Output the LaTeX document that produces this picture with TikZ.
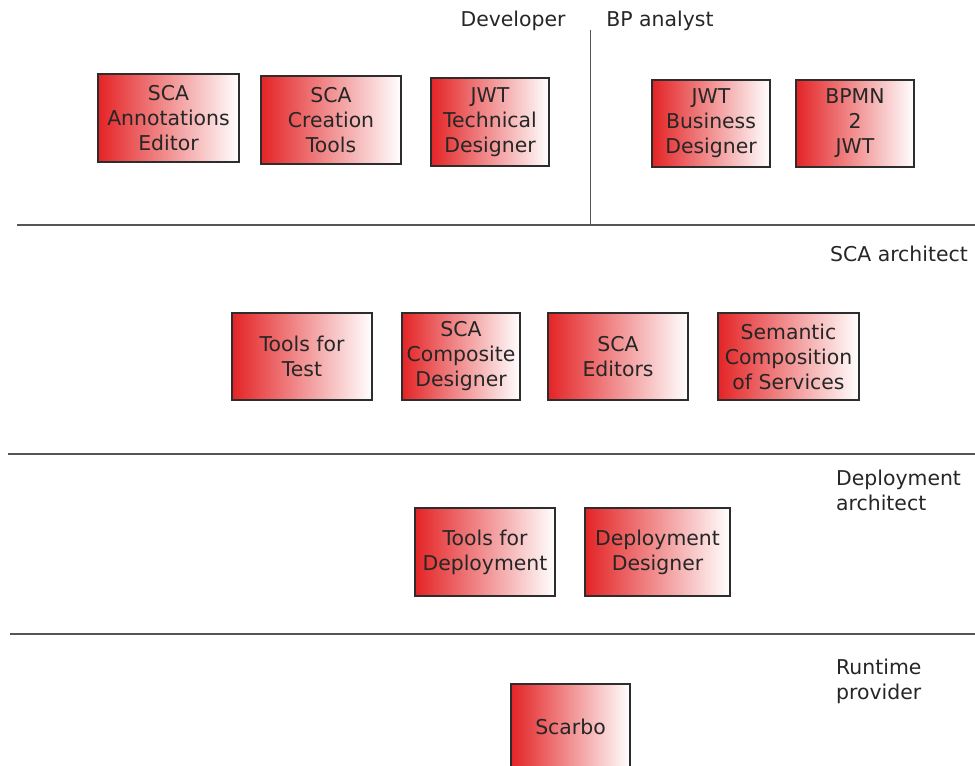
\documentclass[tikz,border=0pt]{standalone}
\usepackage{fontspec}
\setmainfont{DejaVu Sans}
\definecolor{boxred}{RGB}{228,36,38}
\definecolor{boxline}{RGB}{45,45,45}
\definecolor{sepline}{RGB}{85,85,85}
\begin{document}
\begin{tikzpicture}[x=1pt,y=-1pt,
  every node/.style={font=\fontsize{20.4}{25}\selectfont, text=black!85},
  tool/.style={draw=boxline, line width=1.3pt, left color=boxred, right color=white,
    align=center, inner sep=0pt},
  role/.style={inner sep=0pt},
  sep/.style={draw=sepline, line width=1.5pt}]
\useasboundingbox (0,0) rectangle (975,766);
\clip (0,0) rectangle (975,766);
% separators
\coordinate (v1) at (590,30);
\coordinate (v2) at (590,224);
\coordinate (h1a) at (17,225);
\coordinate (h1b) at (975,225);
\coordinate (h2a) at (8,454);
\coordinate (h2b) at (975,454);
\coordinate (h3a) at (10,634);
\coordinate (h3b) at (975,634);
\draw[draw=sepline, line width=1pt] (v1) -- (v2);
\draw[sep] (h1a) -- (h1b);
\draw[sep] (h2a) -- (h2b);
\draw[sep] (h3a) -- (h3b);
% role labels
\node[role] (dev) at (513,21) {Developer};
\node[role] (bpa) at (660,21) {BP analyst};
\node[role, anchor=east] (scaa) at (968,254) {SCA architect};
\node[role, anchor=west, align=left] (depa) at (836,490) {Deployment\\architect};
\node[role, anchor=west, align=left] (runp) at (836,681) {Runtime\\provider};
% row 1
\node[tool, minimum width=141, minimum height=88] (b1) at (168.5,118) {SCA\\Annotations\\Editor};
\node[tool, minimum width=140, minimum height=88] (b2) at (331,120) {SCA\\Creation\\Tools};
\node[tool, minimum width=118, minimum height=88] (b3) at (490,122) {JWT\\Technical\\Designer};
\node[tool, minimum width=118, minimum height=87] (b4) at (711,123.5) {JWT\\Business\\Designer};
\node[tool, minimum width=118, minimum height=87] (b5) at (855,123.5) {BPMN\\2\\JWT};
% row 2
\node[tool, minimum width=140, minimum height=87] (c1) at (302,356.5) {Tools for\\Test};
\node[tool, minimum width=118, minimum height=87] (c2) at (461,356.5) {SCA\\Composite\\Designer};
\node[tool, minimum width=140, minimum height=87] (c3) at (618,356.5) {SCA\\Editors};
\node[tool, minimum width=141, minimum height=87] (c4) at (788.5,356.5) {Semantic\\Composition\\of Services};
% row 3
\node[tool, minimum width=140, minimum height=88] (d1) at (485,552) {Tools for\\Deployment};
\node[tool, minimum width=145, minimum height=88] (d2) at (657.5,552) {Deployment\\Designer};
% row 4
\node[tool, minimum width=119, minimum height=86] (e1) at (570.5,727) {Scarbo};
\end{tikzpicture}
\end{document}
